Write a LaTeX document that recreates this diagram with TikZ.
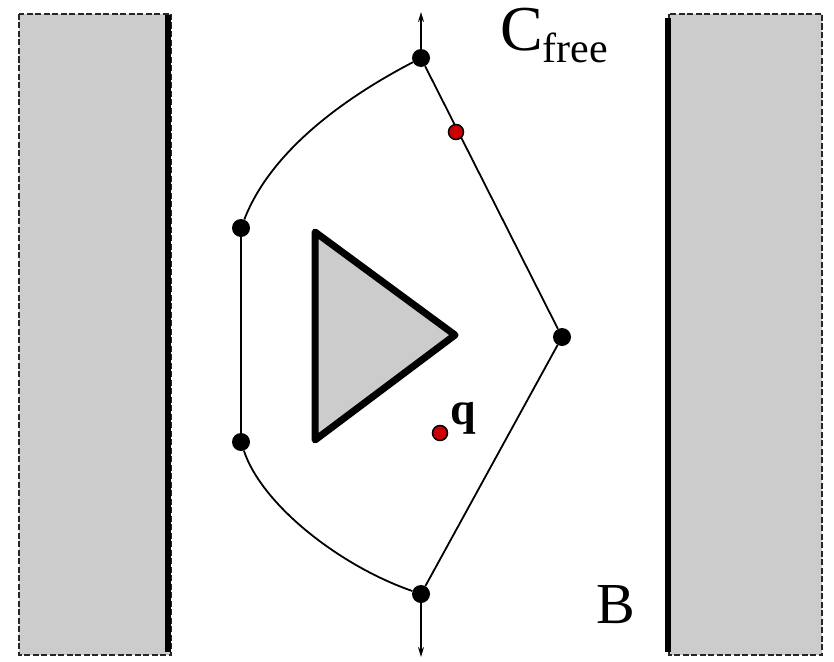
\documentclass[tikz,border=0pt]{standalone}
\usepackage{fontspec}
\setmainfont{Liberation Serif}
\usetikzlibrary{arrows.meta}
\definecolor{obsgray}{RGB}{204,204,204}
\definecolor{ptred}{RGB}{204,0,0}
\begin{document}
\begin{tikzpicture}[x=1pt,y=-1pt,
  obstacle/.style={fill=obsgray,draw=black!85,line width=2.6pt,dash pattern=on 6pt off 2.5pt},
  wall/.style={line width=6.5pt},
  vtx/.style={circle,fill=black,inner sep=0pt,minimum size=18pt},
  redpt/.style={circle,fill=ptred,draw=black,line width=1.5pt,inner sep=0pt,minimum size=15pt},
  edge/.style={line width=1.8pt},
  stub/.style={line width=2pt,-{Stealth[length=10pt,width=6pt]}},
  lbl/.style={inner sep=0pt}]
\useasboundingbox (0,0) rectangle (834,661);
% obstacles
\draw[obstacle] (19,14) rectangle (171,655);
\draw[obstacle] (669,14) rectangle (822,655);
\draw[wall] (168,15) -- (168,652);
\draw[wall] (668,18) -- (668,652);
% triangle
\draw[fill=obsgray,line width=7pt,line join=round] (315,232) -- (455,335) -- (315,440) -- cycle;
% vertices
\node[vtx] (t) at (421,58) {};
\node[vtx] (lt) at (241,228) {};
\node[vtx] (lb) at (241,442) {};
\node[vtx] (b) at (421,594) {};
\node[vtx] (r) at (562,337) {};
\coordinate (tend) at (421,12);
\coordinate (bend) at (421,657);
% edges
\draw[edge] (t) .. controls (350,95) and (272,148) .. (lt);
\draw[edge] (lt) -- (lb);
\draw[edge] (lb) .. controls (262,505) and (340,566) .. (b);
\draw[edge] (t) -- (r);
\draw[edge] (r) -- (b);
\draw[stub] (t) -- (tend);
\draw[stub] (b) -- (bend);
% red points
\node[redpt] (p1) at (456,132) {};
\node[redpt] (q) at (440,433) {};
\node[lbl,anchor=base west,font=\fontsize{46}{46}\selectfont\bfseries] (ql) at (450,424) {q};
% labels
\node[lbl,anchor=base west,font=\fontsize{64}{64}\selectfont] (cf) at (500,50) {C\raisebox{-13pt}{\fontsize{42}{42}\selectfont free}};
\node[lbl,anchor=base west,font=\fontsize{58}{58}\selectfont] (B) at (596,623) {B};
\end{tikzpicture}
\end{document}
